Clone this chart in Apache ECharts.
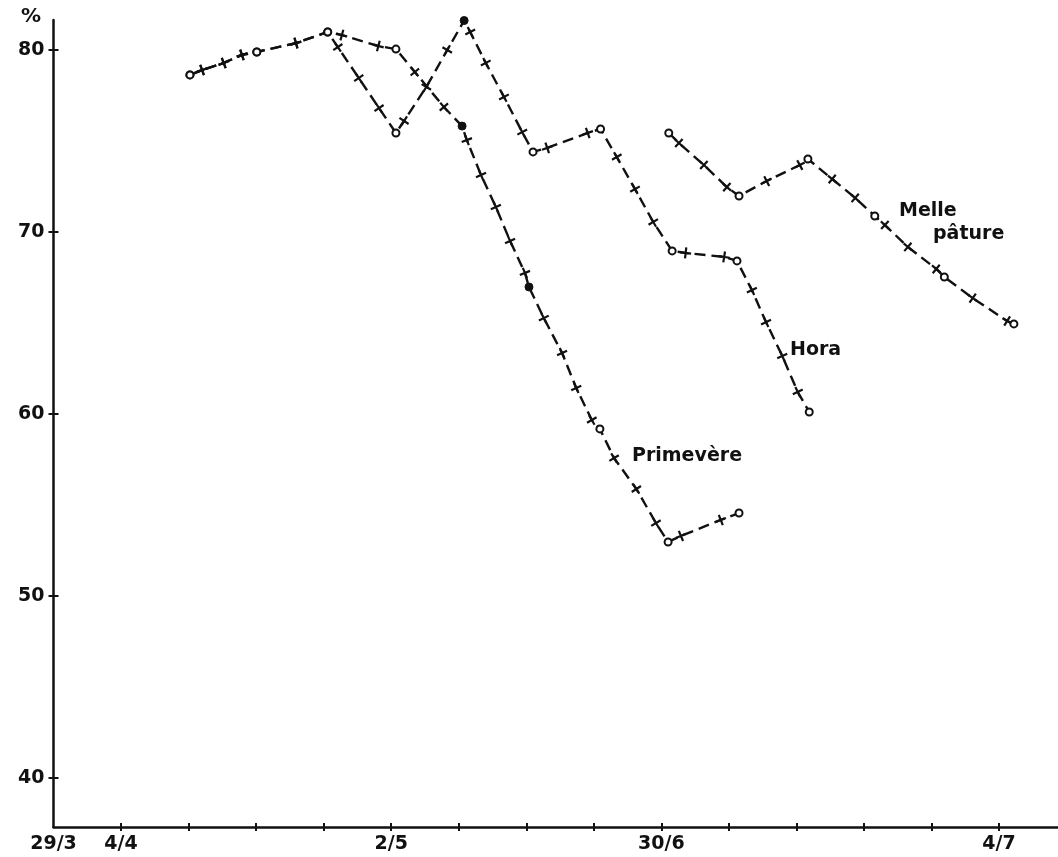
<!DOCTYPE html>
<html><head><meta charset="utf-8">
<script src="https://cdn.jsdelivr.net/npm/echarts@6/dist/echarts.min.js"></script>
<style>html,body{margin:0;padding:0;background:#fff}#c{width:1058px;height:857px}</style>
</head><body><div id="c"></div>
<script>
// x axis in weekly-tick units (0 = origin "29/3")
const xTickValues = [1,2,3,4,5,6,7,8,9,10,11,12,13,14];
const xLabelValues = [0,1,5,9,14];
const xLabelTexts = ['29/3','4/4','2/5','30/6','4/7'];
const yTickValues = [40,50,60,70,80];

// kinds: 'o' open circle, '+' cross, '*' filled dot
const primevereX = [2.02,2.20,2.52,2.79,3.01,3.59,4.06,4.27,4.81,5.07,5.35,5.78,6.05,6.12,6.33,6.55,6.76,6.98,7.04,7.26,7.53,7.74,7.97,8.09,8.30,8.63,8.92,9.10,9.29,9.88,10.15];
const primevereY = [78.63,78.90,79.29,79.73,79.89,80.38,80.99,80.82,80.22,80.05,78.79,76.87,75.82,75.05,73.13,71.37,69.51,67.75,66.98,65.27,63.35,61.43,59.67,59.18,57.58,55.88,54.01,52.97,53.30,54.18,54.56];
const primevereKind = ['o','+','+','+','o','+','o','+','+','o','+','+','*','+','+','+','+','+','*','+','+','+','+','o','+','+','+','o','+','+','o'];

const horaX = [2.02,2.20,2.52,2.79,3.01,3.59,4.06,4.21,4.52,4.82,5.07,5.19,5.52,5.83,6.08,6.17,6.40,6.67,6.94,7.10,7.31,7.91,8.10,8.34,8.61,8.88,9.16,9.36,9.93,10.12,10.34,10.55,10.79,11.02,11.19];
const horaY = [78.63,78.90,79.29,79.73,79.89,80.38,80.99,80.16,78.46,76.81,75.44,76.10,77.97,80.00,81.62,80.99,79.29,77.42,75.49,74.40,74.62,75.44,75.66,74.12,72.36,70.55,68.96,68.85,68.63,68.41,66.81,65.05,63.19,61.21,60.11];
const horaKind = ['o','+','+','+','o','+','o','+','+','+','o','+','+','+','*','+','+','+','+','o','+','+','o','+','+','+','o','+','+','o','+','+','+','+','o'];

const melleX = [9.11,9.26,9.63,9.97,10.15,10.56,11.05,11.17,11.53,11.87,12.16,12.31,12.65,13.07,13.19,13.61,14.12,14.22];
const melleY = [75.44,74.89,73.68,72.47,71.98,72.80,73.68,74.01,72.91,71.87,70.88,70.38,69.18,67.97,67.53,66.37,65.11,64.95];
const melleKind = ['o','+','+','+','o','+','+','o','+','+','o','+','+','+','o','+','+','o'];

const INK = '#111';
const FONT = 'DejaVu Sans';
const PLUS = 'path://M-1,-0.2H1V0.2H-1Z M-0.2,-1H0.2V1H-0.2Z';

const seriesDefs = [
  {name:'Primevère', xs:primevereX, ys:primevereY, kinds:primevereKind},
  {name:'Hora', xs:horaX, ys:horaY, kinds:horaKind},
  {name:'Melle pâture', xs:melleX, ys:melleY, kinds:melleKind}
];

function makeData(d, rots) {
  return d.xs.map((x,i)=>{
    const k = d.kinds[i];
    const item = {value:[x, d.ys[i]]};
    if (k === '+') {
      item.symbol = PLUS; item.symbolSize = 11;
      item.symbolRotate = rots ? rots[i] : 0;
      item.itemStyle = {color:INK, borderWidth:0};
    } else if (k === 'o') {
      item.symbol = 'circle'; item.symbolSize = 7;
      item.itemStyle = {color:'#fff', borderColor:INK, borderWidth:2};
    } else {
      item.symbol = 'circle'; item.symbolSize = 8;
      item.itemStyle = {color:INK, borderColor:INK, borderWidth:1};
    }
    return item;
  });
}

function buildSeries(rotsList) {
  return seriesDefs.map((d,si)=>({
    type:'line', name:d.name, xAxisIndex:0, yAxisIndex:0,
    data: makeData(d, rotsList ? rotsList[si] : null),
    showSymbol:true, showAllSymbol:true, clip:false, silent:true,
    lineStyle:{color:INK, width:2.4, type:[11,6]},
    z: 3
  }));
}

const XMAX = 14.873, YMIN = 37.308, YMAX = 81.648;
const labelStyle = {color:INK, fontFamily:FONT, fontWeight:'bold', fontSize:19};

const option = {
  animation:false,
  backgroundColor:'#fff',
  grid:{left:53.5, right:0, top:20, bottom:30, containLabel:false},
  xAxis:[
    {type:'value', min:0, max:XMAX, position:'bottom',
     axisLine:{show:true, onZero:false, lineStyle:{color:INK, width:2.5}},
     axisTick:{show:true, customValues:xTickValues, length:4, lineStyle:{color:INK, width:2}},
     axisLabel:Object.assign({customValues:xLabelValues, margin:8,
       formatter:(v)=>{const i = xLabelValues.findIndex(t=>Math.abs(t-v)<1e-6); return i>=0 ? xLabelTexts[i] : '';}}, labelStyle),
     splitLine:{show:false}},
    {type:'value', min:0, max:XMAX, position:'bottom',
     axisLine:{show:false, onZero:false},
     axisTick:{show:true, inside:true, customValues:xTickValues, length:4, lineStyle:{color:INK, width:2}},
     axisLabel:{show:false}, splitLine:{show:false}}
  ],
  yAxis:[
    {type:'value', min:YMIN, max:YMAX, position:'left',
     axisLine:{show:true, onZero:false, lineStyle:{color:INK, width:2.5}},
     axisTick:{show:true, customValues:yTickValues, length:5, lineStyle:{color:INK, width:2}},
     axisLabel:Object.assign({customValues:yTickValues, margin:9}, labelStyle),
     splitLine:{show:false}},
    {type:'value', min:YMIN, max:YMAX, position:'left',
     axisLine:{show:false, onZero:false},
     axisTick:{show:true, inside:true, customValues:yTickValues, length:5, lineStyle:{color:INK, width:2}},
     axisLabel:{show:false}, splitLine:{show:false}}
  ],
  graphic:[
    {type:'text', left:21, top:7, style:{text:'%', fill:INK, font:'bold 20px "DejaVu Sans"'}},
    {type:'text', left:632, top:447, style:{text:'Primevère', fill:INK, font:'bold 19px "DejaVu Sans"'}},
    {type:'text', left:790, top:341, style:{text:'Hora', fill:INK, font:'bold 19px "DejaVu Sans"'}},
    {type:'text', left:899, top:202, style:{text:'Melle', fill:INK, font:'bold 19px "DejaVu Sans"'}},
    {type:'text', left:933, top:225, style:{text:'pâture', fill:INK, font:'bold 19px "DejaVu Sans"'}}
  ],
  series: buildSeries(null)
};

const chart = echarts.init(document.getElementById('c'), null, {renderer:'canvas'});
chart.setOption(option);

// orient each cross along the local direction of its line (screen space)
const rotsList = seriesDefs.map((d,si)=>{
  const n = d.xs.length;
  return d.xs.map((x,i)=>{
    const a = chart.convertToPixel({seriesIndex:si}, [d.xs[Math.max(0,i-1)], d.ys[Math.max(0,i-1)]]);
    const b = chart.convertToPixel({seriesIndex:si}, [d.xs[Math.min(n-1,i+1)], d.ys[Math.min(n-1,i+1)]]);
    return Math.atan2(-(b[1]-a[1]), b[0]-a[0]) * 180 / Math.PI;
  });
});
chart.setOption({series: buildSeries(rotsList)});
</script>
</body></html>
